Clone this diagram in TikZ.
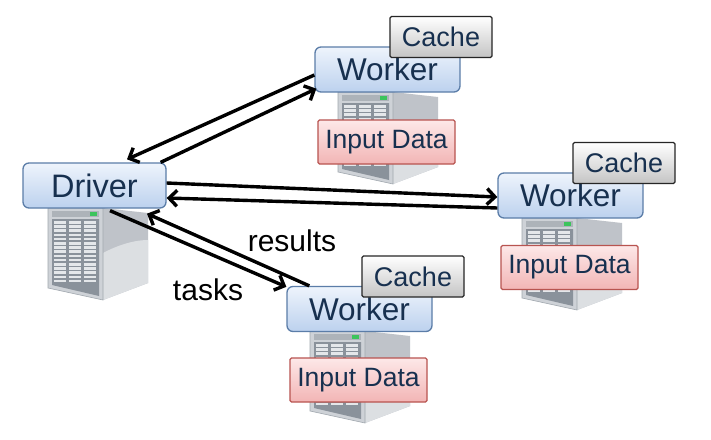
\documentclass[tikz,border=0pt]{standalone}
\usepackage{fontspec}
\setmainfont{Liberation Sans}
\usetikzlibrary{arrows.meta,calc}
\definecolor{txtnavy}{HTML}{17304F}
\definecolor{boxborder}{HTML}{5B7DA8}
\definecolor{boxtop}{HTML}{EEF4FC}
\definecolor{boxbot}{HTML}{BCD1EE}
\definecolor{cacheborder}{HTML}{262626}
\definecolor{cachetop}{HTML}{FFFFFF}
\definecolor{cachebot}{HTML}{C4C4C4}
\definecolor{inborder}{HTML}{B85450}
\definecolor{intop}{HTML}{FDE8E8}
\definecolor{inbot}{HTML}{F2B5B5}
\definecolor{srvside}{HTML}{BFC3C9}
\definecolor{srvsidelt}{HTML}{DCDFE2}
\definecolor{srvfront}{HTML}{CED2D7}
\definecolor{srvgrill}{HTML}{8A929B}
\definecolor{srvslot}{HTML}{E4E7EA}
\definecolor{srvled}{HTML}{3CC45C}
\tikzset{
  mainbox/.style={draw=boxborder, line width=1.3pt, rounded corners=6pt,
    top color=boxtop, bottom color=boxbot, text=txtnavy,
    minimum width=145pt, minimum height=45pt, inner sep=0pt,
    font=\fontsize{31.5}{35}\selectfont},
  cachebox/.style={draw=cacheborder, line width=1.2pt, rounded corners=1.5pt,
    top color=cachetop, bottom color=cachebot, text=txtnavy,
    minimum width=102pt, minimum height=41pt, inner sep=0pt,
    font=\fontsize{27}{31}\selectfont},
  inputbox/.style={draw=inborder, line width=1.2pt, rounded corners=1.5pt,
    top color=intop, bottom color=inbot, text=txtnavy,
    minimum width=137pt, minimum height=44pt, inner sep=0pt,
    font=\fontsize{26.5}{30}\selectfont},
  arr/.style={line width=3.4pt, -{Straight Barb[length=8pt,width=16pt]}},
  lbl/.style={font=\fontsize{30}{34}\selectfont, text=black, inner sep=0pt},
  server/.pic={
    \fill[srvside] (55,0) -- (100,5) -- (100,75) -- (55,92) -- cycle;
    \fill[srvsidelt] (55,45) .. controls (68,38) and (85,32) .. (100,32) -- (100,75) -- (55,92) -- cycle;
    \filldraw[fill=srvfront, draw=srvgrill!80, line width=0.6pt] (0,0) -- (55,0) -- (55,92) -- (0,80) -- cycle;
    \fill[srvgrill!70] (4,3) rectangle (51,9);
    \fill[srvled] (42,4) rectangle (49,8);
    \fill[srvgrill] (4,11) -- (51,11) -- (51,88) -- (4,77) -- cycle;
    \foreach \c in {0,1,2} {
      \foreach \r in {0,...,14} {
        \fill[srvslot] ({6+\c*15},{13+\r*4.2}) rectangle ++(12,2.6);
      }
    }
  }
}
\begin{document}
\begin{tikzpicture}[x=1pt,y=-1pt]
\useasboundingbox[fill=white] (0,0) rectangle (711,439);

% servers
\pic at (48,208) {server};
\pic at (338,92) {server};
\pic at (522,218) {server};
\pic at (310,331) {server};

% driver and workers
\node[mainbox, minimum width=143pt, font=\fontsize{32.5}{36}\selectfont] (driver) at (94.5,185.5) {Driver};
\node[mainbox] (w1) at (387.5,69.5) {Worker};
\node[mainbox] (w2) at (570.5,195.5) {Worker};
\node[mainbox] (w3) at (359.5,309) {Worker};

% cache boxes
\node[cachebox] (c1) at ($(w1)+(53.5,-32.5)$) {Cache};
\node[cachebox] (c2) at ($(w2)+(53.5,-32.5)$) {Cache};
\node[cachebox] (c3) at ($(w3)+(53.5,-32.5)$) {Cache};

% input data boxes
\node[inputbox] (i1) at ($(w1)+(-1,72.5)$) {Input Data};
\node[inputbox] (i2) at ($(w2)+(-1,72)$) {Input Data};
\node[inputbox] (i3) at ($(w3)+(-1,71)$) {Input Data};

% arrows driver <-> top worker
\draw[arr] ([yshift=-5.5pt]w1.west) -- ([shift={(32.5pt,3pt)}]driver.north);
\draw[arr] ([xshift=-6pt]driver.north east) -- ([shift={(2pt,4pt)}]w1.south west);

% arrows driver <-> right worker
\draw[arr] ([yshift=2.5pt]driver.east) -- ([yshift=-1.5pt]w2.west);
\draw[arr] ([yshift=-12.5pt]w2.west) -- ([yshift=-12.5pt]driver.east);

% arrows driver <-> bottom worker
\draw[arr] ([shift={(15.5pt,-2pt)}]driver.south) -- ([shift={(0pt,-1pt)}]w3.north west);
\draw[arr] ([xshift=23pt]w3.north west) -- ([shift={(52.5pt,-5pt)}]driver.south);

% labels
\node[lbl] (results) at (292,241) {results};
\node[lbl] (tasks) at (208,290) {tasks};
\end{tikzpicture}
\end{document}
